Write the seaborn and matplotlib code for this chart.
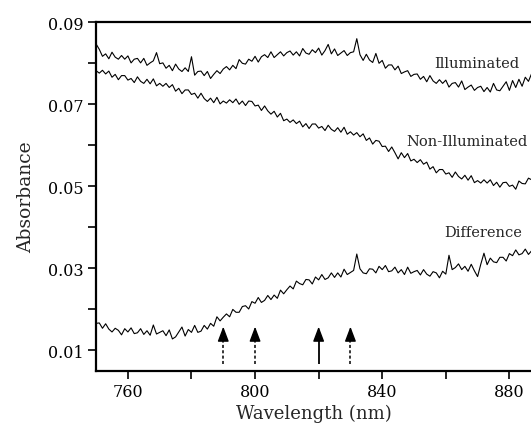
import numpy as np
import pandas as pd
import seaborn as sns
import matplotlib.pyplot as plt
from matplotlib.ticker import MultipleLocator

# wavelength grid (nm), one reading per nm
wavelength = list(range(750, 888))

illuminated = [
    .0847, .0834, .0817, .0823, .0811, .0827, .0815, .0810, .0819, .0810,
    .0818, .0801, .0810, .0812, .0801, .0812, .0795, .0801, .0806, .0826,
    .0799, .0801, .0788, .0795, .0782, .0798, .0786, .0780, .0789, .0780,
    .0816, .0771, .0780, .0781, .0770, .0780, .0763, .0773, .0782, .0775,
    .0786, .0792, .0784, .0795, .0787, .0809, .0800, .0798, .0810, .0805,
    .0817, .0803, .0816, .0821, .0814, .0828, .0814, .0821, .0828, .0818,
    .0826, .0830, .0820, .0828, .0818, .0836, .0825, .0822, .0833, .0826,
    .0837, .0820, .0831, .0846, .0823, .0835, .0819, .0825, .0831, .0819,
    .0826, .0828, .0860, .0821, .0807, .0822, .0808, .0802, .0824, .0800,
    .0807, .0788, .0796, .0796, .0784, .0793, .0775, .0779, .0782, .0768,
    .0773, .0774, .0761, .0768, .0755, .0770, .0757, .0751, .0760, .0751,
    .0759, .0742, .0751, .0753, .0742, .0757, .0736, .0742, .0747, .0734,
    .0741, .0744, .0731, .0741, .0730, .0751, .0735, .0733, .0744, .0755,
    .0734, .0758, .0741, .0761, .0744, .0766, .0756, .0775,
]

non_illuminated = [
    .0782, .0776, .0783, .0774, .0781, .0766, .0773, .0760, .0770, .0770,
    .0759, .0763, .0753, .0767, .0756, .0751, .0761, .0750, .0762, .0745,
    .0751, .0744, .0751, .0741, .0748, .0732, .0739, .0726, .0735, .0735,
    .0724, .0727, .0715, .0727, .0714, .0707, .0715, .0704, .0717, .0701,
    .0708, .0703, .0711, .0704, .0713, .0700, .0708, .0697, .0708, .0707,
    .0696, .0698, .0685, .0696, .0684, .0676, .0683, .0669, .0678, .0660,
    .0664, .0656, .0662, .0653, .0659, .0645, .0653, .0641, .0652, .0652,
    .0642, .0646, .0636, .0649, .0639, .0634, .0643, .0632, .0644, .0627,
    .0633, .0625, .0631, .0621, .0628, .0612, .0618, .0603, .0612, .0610,
    .0597, .0598, .0585, .0596, .0582, .0567, .0582, .0570, .0580, .0562,
    .0566, .0558, .0565, .0554, .0559, .0542, .0548, .0533, .0541, .0541,
    .0530, .0533, .0522, .0535, .0524, .0518, .0527, .0515, .0526, .0509,
    .0514, .0508, .0516, .0508, .0516, .0502, .0510, .0498, .0509, .0510,
    .0500, .0503, .0493, .0513, .0507, .0506, .0520, .0516,
]

difference = [
    .0166, .0167, .0154, .0165, .0152, .0145, .0154, .0149, .0138, .0153,
    .0145, .0155, .0141, .0143, .0153, .0139, .0148, .0137, .0162, .0140,
    .0144, .0148, .0136, .0150, .0128, .0133, .0145, .0157, .0135, .0151,
    .0144, .0161, .0144, .0147, .0161, .0152, .0166, .0159, .0182, .0172,
    .0181, .0189, .0182, .0200, .0193, .0193, .0207, .0209, .0201, .0219,
    .0215, .0229, .0217, .0222, .0234, .0224, .0235, .0227, .0247, .0238,
    .0248, .0257, .0250, .0269, .0263, .0260, .0273, .0272, .0262, .0279,
    .0272, .0285, .0273, .0277, .0289, .0278, .0289, .0279, .0298, .0285,
    .0290, .0295, .0335, .0299, .0289, .0287, .0299, .0298, .0289, .0305,
    .0297, .0307, .0292, .0294, .0303, .0289, .0297, .0285, .0303, .0288,
    .0292, .0295, .0284, .0297, .0286, .0281, .0292, .0289, .0277, .0293,
    .0286, .0332, .0297, .0302, .0311, .0297, .0305, .0293, .0310, .0294,
    .0280, .0310, .0337, .0309, .0325, .0316, .0314, .0327, .0327, .0318,
    .0336, .0331, .0345, .0333, .0336, .0347, .0334, .0343,
]

# arrows marking wavelengths of interest
arrow_nm = [790, 800, 820, 830]
arrow_style = ["--", "--", "-", "--"]

series = {
    "Illuminated": illuminated,
    "Non-Illuminated": non_illuminated,
    "Difference": difference,
}
df = pd.concat(
    [pd.DataFrame({"Wavelength": wavelength, "Absorbance": v, "series": k})
     for k, v in series.items()],
    ignore_index=True,
)

sns.set_theme(style="ticks")
plt.rcParams["font.family"] = ["DejaVu Serif"]

fig = plt.figure(figsize=(5.31, 4.31), dpi=100)
ax = fig.add_axes([0.181, 0.138, 0.819, 0.808])

sns.lineplot(
    data=df, x="Wavelength", y="Absorbance", hue="series",
    palette={k: "black" for k in series}, units="series", estimator=None,
    linewidth=0.8, legend=False, ax=ax,
)

ax.text(869.8, 0.0801, "Illuminated", ha="center", va="center", fontsize=10.5)
ax.text(866.6, 0.0610, "Non-Illuminated", ha="center", va="center", fontsize=10.5)
ax.text(871.7, 0.0389, "Difference", ha="center", va="center", fontsize=10.5)

for x, ls in zip(arrow_nm, arrow_style):
    ax.plot([x, x], [0.0067, 0.0135], color="black", lw=1.3 if ls == "-" else 1.1,
            ls=(0, (2, 1.5)) if ls == "--" else "-", solid_capstyle="butt")
    ax.annotate("", xy=(x, 0.0158), xytext=(x, 0.0128),
                arrowprops=dict(arrowstyle="-|>,head_length=0.9,head_width=0.34",
                                color="black", lw=1, shrinkA=0, shrinkB=0,
                                mutation_scale=10))

ax.set_xlim(750, 886.8)
ax.set_ylim(0.0051, 0.0899)
ax.xaxis.set_minor_locator(MultipleLocator(20))
ax.yaxis.set_minor_locator(MultipleLocator(0.01))
ax.set_yticks([0.01, 0.03, 0.05, 0.07, 0.09])
ax.set_yticklabels(["0.01", "0.03", "0.05", "0.07", "0.09"])
ax.set_xticks([760, 800, 840, 880])

ax.tick_params(which="both", direction="out", length=6, width=1.2, colors="black",
               labelsize=11.5)
ax.tick_params(axis="x", pad=3)
ax.tick_params(axis="y", pad=3)

ax.set_xlabel("Wavelength (nm)", fontsize=13, labelpad=3)
ax.set_ylabel("Absorbance", fontsize=13.5, labelpad=9)

for s in ["left", "bottom", "top"]:
    ax.spines[s].set_linewidth(1.6)
    ax.spines[s].set_color("black")
ax.spines["right"].set_visible(False)

fig.savefig("out.png", dpi=100)
